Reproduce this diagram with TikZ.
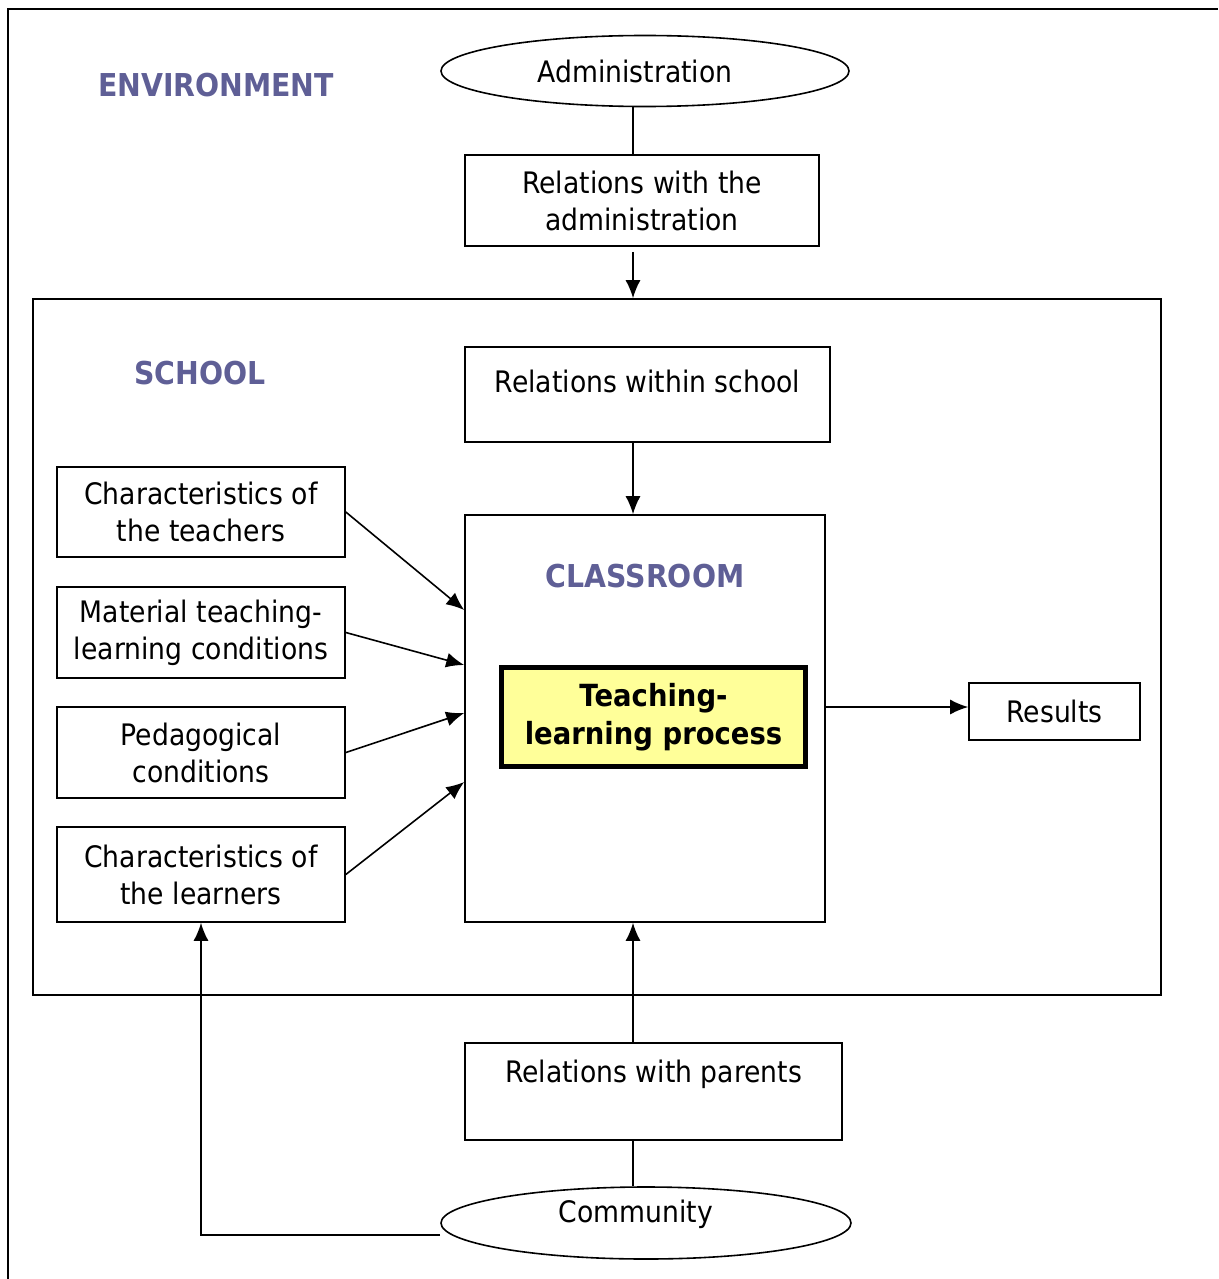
\documentclass[tikz,border=0pt]{standalone}
\usepackage{fontspec}
\setmainfont{DejaVu Sans}[FakeStretch=0.9]
\usetikzlibrary{shapes.geometric,arrows.meta}
\definecolor{labelblue}{RGB}{95,95,150}
\definecolor{procyellow}{RGB}{255,255,153}
\tikzset{
  box/.style={draw, line width=1.6pt, align=center, inner sep=0pt},
  oval/.style={draw, ellipse, line width=1.6pt, inner sep=0pt},
  title/.style={font=\fontsize{31.5}{37}\selectfont\bfseries, text=labelblue},
  link/.style={->, line width=1.6pt},
  tie/.style={line width=1.1pt},
}
\begin{document}
\fontsize{29.6}{37}\selectfont
\begin{tikzpicture}[x=1pt,y=-1pt,>={Latex[length=18pt,width=15pt]}]
\useasboundingbox (0,0) rectangle (1218,1279);
% environment frame
\draw[line width=1.6pt] (8,1279) -- (8,9) -- (1218,9);
\coordinate (axis) at (633,0);

\node[title] (envlbl) at (216,85) {ENVIRONMENT};
\node[oval, minimum width=408pt, minimum height=71pt,
  label={[xshift=-10pt]center:Administration}] (admin) at (645,71) {};
\node[box, minimum width=354pt, minimum height=91pt] (reladm) at (642,200.5) {Relations with the\\administration};

% school
\node[box, minimum width=1128pt, minimum height=696pt] (school) at (597,647) {};
\node[title] (schoollbl) at (200,373) {SCHOOL};
\node[box, minimum width=365pt, minimum height=95pt] (relsch) at (647.5,394.5) {Relations within school\\[-10pt]\mbox{}};

\node[box, minimum width=288pt, minimum height=90pt] (teach) at (201,512) {Characteristics of\\the teachers};
\node[box, minimum width=288pt, minimum height=91pt] (mater) at (201,632.5) {Material teaching-\\learning conditions};
\node[box, minimum width=288pt, minimum height=91pt] (pedag) at (201,752.5) {Pedagogical\\conditions};
\node[box, minimum width=288pt, minimum height=95pt] (learn) at (201,874.5) {Characteristics of\\the learners};

% classroom
\node[box, minimum width=360pt, minimum height=407pt] (class) at (645,718.5) {};
\node[title] (classlbl) at (645,576) {CLASSROOM};
\node[box, line width=5pt, fill=procyellow, minimum width=304pt, minimum height=99pt,
  font=\fontsize{30.5}{38}\selectfont\bfseries] (tlp) at (653.5,717) {Teaching-\\learning process};
\node[box, minimum width=171pt, minimum height=57pt] (results) at (1054.5,711.5) {Results};

% community side
\node[box, minimum width=377pt, minimum height=97pt] (relpar) at (653.5,1091.5) {Relations with parents\\[4pt]\mbox{}};
\node[oval, minimum width=410pt, minimum height=72pt,
  label={[xshift=-10pt,yshift=9pt]center:Community}] (comm) at (646,1223) {};

% connectors
\draw[tie] (axis |- admin.south) -- (axis |- reladm.north);
\draw[link, shorten <=5pt] (axis |- reladm.south) -- (axis |- school.north);
\draw[link] (axis |- relsch.south) -- (axis |- class.north);
\draw[link] (teach.east) -- ([yshift=108.5pt]class.west);
\draw[link] (mater.east) -- ([yshift=53.5pt]class.west);
\draw[link] (pedag.east) -- ([yshift=5.5pt]class.west);
\draw[link] (learn.east) -- ([yshift=-63.5pt]class.west);
\draw[link] ([yshift=4.5pt]class.east |- results.west) -- ([yshift=4.5pt]results.west);
\draw[link] (axis |- relpar.north) -- (axis |- class.south);
\draw[tie] (axis |- relpar.south) -- (axis |- comm.north);
\draw[link] ([yshift=-12pt]comm.west) -| (learn.south);
\end{tikzpicture}
\end{document}
